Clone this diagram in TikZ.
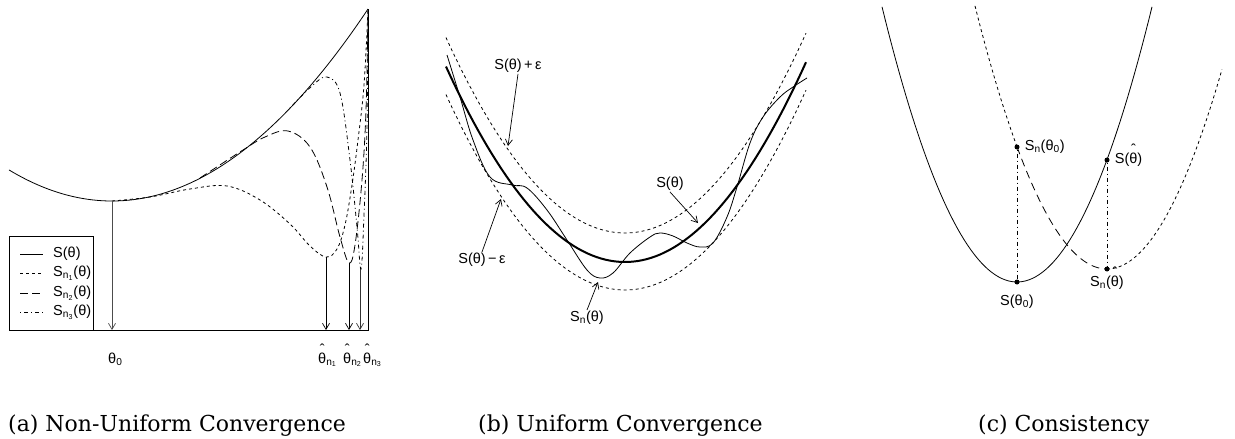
\documentclass[tikz,border=0pt]{standalone}
\usepackage{fontspec}
\usepackage{tikz}
\usetikzlibrary{positioning, arrows.meta}
\newfontfamily\lblfont{Liberation Sans}
\newfontfamily\capfont{DejaVu Serif}
\newcommand\thhat{\ooalign{θ\cr\hidewidth\raisebox{0.62em}{ˆ}\hidewidth\cr}}

\tikzset{
  lbl/.style={font=\lblfont\fontsize{14.5}{16}\selectfont, inner sep=1pt},
  captext/.style={font=\capfont\fontsize{22}{26}\selectfont, anchor=base west, inner sep=0pt},
  ptr/.style={-{Straight Barb[length=6pt,width=7pt]}, line width=0.7pt},
  curve/.style={line width=0.8pt},
  snone/.style={curve, dash pattern=on 3pt off 3pt},
  sntwo/.style={curve, dash pattern=on 8pt off 4pt},
  snthree/.style={curve, dash pattern=on 1pt off 3pt on 4pt off 3pt},
  band/.style={curve, dash pattern=on 3pt off 3pt},
  blob/.style={circle, fill, inner sep=0pt, minimum size=5pt}
}

\begin{document}
\begin{tikzpicture}[x=1pt, y=-1pt]
  \useasboundingbox (0,0) rectangle (1235,439);

  % (a)
  \draw[curve] (9,330) -- (368,330) -- (368,9);
  \draw[curve] plot[domain=9:368, samples=90] (\x, {201-(0.05413*(\x-112))^2});
  \draw[snone] plot[smooth, tension=0.6] coordinates {(112,201) (150,197) (190,189) (227,186)
    (260,200) (290,224) (310,246) (326,257) (337,249) (345,225) (352,185) (358,140) (364,85) (368,9)};
  \draw[sntwo] plot[smooth, tension=0.6] coordinates {(200,178) (243,150) (265,137) (288,131)
    (310,147) (327,187) (340,237) (349,263) (355,245) (362,180) (366,110) (368,9)};
  \draw[snthree] plot[smooth, tension=0.6] coordinates {(290,108) (313,85) (327,77) (340,93)
    (350,160) (357,227) (361,269) (364,215) (367,127) (368,9)};

  \coordinate (m0) at (112,201);  \coordinate (b0) at (112,330);
  \coordinate (m1) at (326,257);  \coordinate (b1) at (326,330);
  \coordinate (m2) at (349,263);  \coordinate (b2) at (349,330);
  \coordinate (m3) at (360,269);  \coordinate (b3) at (360,330);
  \draw[ptr, black!70] (m0) -- (b0);
  \draw[ptr] (m1) -- (b1);
  \draw[ptr] (m2) -- (b2);
  \draw[ptr, black!80] (m3) -- (b3);

  \node[lbl, inner sep=0pt, anchor=base west] (th0) at (108,363) {θ\textsubscript{0}};
  \node[lbl, inner sep=0pt, anchor=base west] (th1) at (318,363) {\thhat\textsubscript{n\textsubscript{1}}};
  \node[lbl, inner sep=0pt, anchor=base west] (th2) at (343,363) {\thhat\textsubscript{n\textsubscript{2}}};
  \node[lbl, inner sep=0pt, anchor=base west] (th3) at (363,363) {\thhat\textsubscript{n\textsubscript{3}}};

  \draw[curve, fill=white] (9,236) rectangle (93,330);
  \draw[curve] (20,254) -- (43,254);
  \draw[snone] (20,273) -- (43,273);
  \draw[sntwo] (20,293) -- (43,293);
  \draw[snthree] (20,312) -- (43,312);
  \node[lbl, anchor=west] (lg0) at (52,254) {S(θ)};
  \node[lbl, anchor=west] (lg1) at (52,273) {S\textsubscript{n\textsubscript{1}}(θ)};
  \node[lbl, anchor=west] (lg2) at (52,293) {S\textsubscript{n\textsubscript{2}}(θ)};
  \node[lbl, anchor=west] (lg3) at (52,312) {S\textsubscript{n\textsubscript{3}}(θ)};

  % (b)
  \draw[band] plot[domain=446:806, samples=80] (\x, {233-(0.0781*(\x-625))^2});
  \draw[band] plot[domain=446:806, samples=80] (\x, {290-(0.0781*(\x-625))^2});
  \draw[line width=2pt] plot[domain=446:806, samples=80] (\x, {262-(0.0781*(\x-625))^2});
  \draw[curve] plot[smooth, tension=0.6] coordinates {(447,55) (460,97) (473,140) (490,177)
    (512,185) (527,188) (547,210) (567,240) (587,270) (600,278) (613,273) (630,253) (650,237)
    (660,233) (673,236) (687,243) (700,247) (713,243) (727,217) (737,187) (750,143) (763,117)
    (780,97) (793,87) (807,78)};

  \node[lbl] (lup) at (518,66) {S(θ)\,+\,ε};
  \node[lbl] (ldn) at (482,260) {S(θ)\,−\,ε};
  \node[lbl] (ls) at (670,184) {S(θ)};
  \node[lbl] (lsn) at (587,318) {S\textsubscript{n}(θ)};
  \coordinate (aup) at (508,146);
  \coordinate (adn) at (501,199);
  \coordinate (as) at (698,223);
  \coordinate (asn) at (598,282);
  \draw[ptr] (lup.south) -- (aup);
  \draw[ptr] (ldn.north) -- (adn);
  \draw[ptr] (ls.south) -- (as);
  \draw[ptr] (lsn.north) -- (asn);

  % (c)
  \draw[curve] plot[domain=882:1152, samples=80] (\x, {282-(0.12288*(\x-1017))^2});
  \draw[band] plot[domain=975:1017, samples=20] (\x, {269-(0.12288*(\x-1107))^2});
  \draw[curve, dash pattern=on 8pt off 5pt] plot[domain=1017:1107, samples=40] (\x, {269-(0.12288*(\x-1107))^2});
  \draw[band] plot[domain=1107:1222, samples=40] (\x, {269-(0.12288*(\x-1107))^2});

  \node[blob] (s0) at (1017,282) {};
  \node[blob] (sn0) at (1017,147) {};
  \node[blob] (sth) at (1107,160) {};
  \node[blob] (snth) at (1107,269) {};
  \draw[snthree] (sn0) -- (s0);
  \draw[snthree] (sth) -- (snth);
  \node[lbl, right=4pt of sn0] (lsn0) {S\textsubscript{n}(θ\textsubscript{0})};
  \node[lbl, right=4pt of sth] (lsth) {S(\thhat)};
  \node[lbl, below=3pt of snth] (lsnth) {S\textsubscript{n}(\thhat)};
  \node[lbl, below=9pt of s0] (ls0) {S(θ\textsubscript{0})};

  % captions
  \node[captext] (capa) at (8,431) {(a) Non-Uniform Convergence};
  \node[captext] (capb) at (478,431) {(b) Uniform Convergence};
  \node[captext] (capc) at (978,431) {(c) Consistency};
\end{tikzpicture}
\end{document}
